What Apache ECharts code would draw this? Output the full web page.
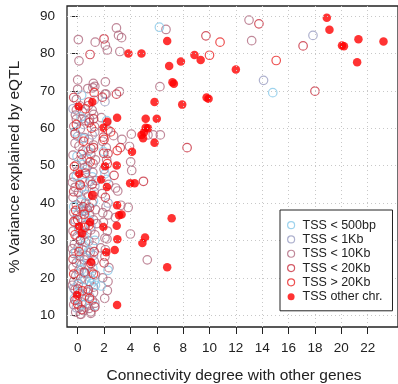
<!DOCTYPE html>
<html><head><meta charset="utf-8">
<script src="https://cdn.jsdelivr.net/npm/echarts@6/dist/echarts.min.js"></script>
<style>html,body{margin:0;padding:0;background:#fff}#c{width:398px;height:384px}</style>
</head><body><div id="c"></div>
<script>
const xTicks = [0,2,4,6,8,10,12,14,16,18,20,22];
const yTicks = [10,20,30,40,50,60,70,80,90];
const legendNames = ['TSS < 500bp','TSS < 1Kb','TSS < 10Kb','TSS < 20Kb','TSS > 20Kb','TSS other chr.'];

const tss500 = [[0.3,68.8],[-0.2,59.0],[0.4,57.2],[-0.1,47.2],[0.5,45.5],[0.2,40.2],[-0.3,39.0],[0.6,36.5],[0.1,33.0],[0.45,28.5],[-0.15,26.8],[0.3,22.1],[0.55,19.5],[0.05,18.2],[-0.25,14.5],[0.35,12.8],[0.15,24.5],[0.6,42.3],[-0.05,52.5],[0.25,63.0],[0.5,30.8],[0.1,16.0],[0.4,50.3],
[1.1,47.0],[0.8,53.8],[1.2,40.5],[0.9,35.2],[1.3,30.0],[1.05,18.5],[1.25,19.2],[0.95,20.0],[1.35,18.0],[1.15,22.5],[0.85,27.3],[1.3,12.5],
[2.2,62.0],[2.2,46.3],[2.07,47.8],[1.95,53.8],[1.78,17.8],[2.3,22.0],[6.2,87.0],[14.8,69.5]];

const tss1k = [[2.07,67.1],[14.1,72.8],[17.85,84.8],[0.0,57.8],[0.3,44.0],[-0.2,35.5],[0.5,25.5],[0.1,21.0],[-0.3,17.2],[0.65,49.0],[1.0,33.8],[1.2,26.0],[0.9,15.0],[1.3,44.5],[0.2,29.8],[-0.1,12.0],[0.45,61.0],[2.3,40.0],[1.1,58.2],[0.6,38.0],[-0.35,65.2],[1.25,67.5]];

const tss10k = [[0.05,83.7],[0.1,78.0],[0.0,72.9],[1.33,83.0],[2.1,82.2],[2.25,80.9],[2.94,86.8],[3.1,84.8],[3.33,84.2],[3.2,80.5],[6.7,86.4],[13.2,83.4],[13.0,88.9],[0.0,70.4],[-0.1,67.7],[0.77,70.6],[1.19,72.0],[1.3,71.2],[1.15,70.8],[2.1,72.4],[2.07,69.1],[2.15,69.1],[3.16,69.8],[6.24,71.1],[-0.1,64.9],[-0.17,63.5],[-0.1,62.4],[0.32,62.5],[1.21,63.7],[1.28,60.4],[4.07,58.4],[2.72,58.0],[3.36,57.0],[3.93,55.1],[4.02,51.0],[4.1,48.7],[5.73,58.2],[6.27,58.2],[5.33,58.2],[2.17,54.8],[1.17,50.5],[2.88,44.0],[3.04,43.2],[3.28,39.4],[3.83,38.8],[2.3,36.8],[1.9,37.4],[2.86,36.1],[4.0,31.7],[2.07,30.6],[2.22,30.4],[2.07,25.7],[5.28,24.8],[2.37,22.7],[2.25,16.6],[1.2,16.0],[0.99,10.9],[0.2,10.3],
[-0.3,60.5],[0.2,59.8],[0.5,57.5],[-0.2,56.0],[0.1,55.2],[0.4,54.0],[-0.35,52.8],[0.3,51.5],[-0.1,50.2],[0.55,49.5],[0.0,48.5],[-0.3,47.0],[0.35,46.5],[0.15,45.0],[-0.2,44.2],[0.5,43.5],[0.05,42.8],[-0.35,41.5],[0.3,41.0],[0.6,40.0],[-0.1,39.5],[0.2,38.5],[-0.3,37.5],[0.45,37.8],[0.0,36.8],[0.25,35.8],[-0.2,34.8],[0.55,34.0],[0.1,33.2],[-0.35,32.5],[0.35,32.0],[-0.05,31.0],[0.2,30.2],[0.6,29.5],[-0.25,29.0],[0.05,28.2],[0.4,27.5],[-0.3,26.5],[0.15,25.8],[0.5,24.8],[-0.1,24.0],[0.3,23.5],[-0.35,22.8],[0.1,22.0],[0.55,21.2],[-0.15,20.5],[0.25,19.8],[-0.3,19.0],[0.05,18.5],[0.4,17.5],[-0.2,16.8],[0.15,15.8],[0.5,15.0],[-0.05,14.2],[0.3,13.5],[-0.3,12.8],[0.1,12.0],[0.45,11.2],[-0.15,10.8],[0.25,10.2],[0.6,13.0],[0.65,26.0],[0.7,38.5],[0.7,52.0],[-0.4,45.5],[-0.4,27.8],[-0.4,18.0],[0.35,64.5],[0.6,62.0],[0.15,66.0],
[0.8,66.0],[1.1,64.8],[0.9,62.5],[1.3,59.0],[0.85,57.0],[1.2,55.5],[1.0,53.0],[1.35,51.5],[0.75,49.8],[1.15,48.2],[0.95,45.8],[1.25,43.0],[0.8,41.8],[1.1,40.0],[1.35,38.2],[0.9,37.0],[1.2,35.5],[1.0,32.8],[1.3,31.5],[0.85,29.8],[1.15,28.5],[0.95,26.8],[1.25,24.5],[0.8,23.2],[1.05,21.5],[1.35,20.8],[0.9,19.0],[1.2,17.5],[0.75,16.2],[1.1,14.0],[1.3,13.2],[0.85,11.8],[1.0,10.5],[1.4,46.0],[1.45,34.5],[0.7,32.0],
[1.8,62.8],[2.3,59.5],[1.9,56.5],[2.2,51.5],[2.0,49.0],[2.35,45.0],[1.85,42.5],[2.15,39.0],[1.95,34.8],[2.25,32.5],[1.75,28.0],[2.1,27.5],[1.9,20.0],[2.3,19.0],[2.05,14.5]];

const tss20k = [[0.94,79.7],[2.0,83.9],[13.75,87.9],[17.1,82.0],[9.73,84.7],[2.94,69.1],[1.88,68.3],[0.84,67.0],[0.87,61.5],[1.21,62.5],[3.23,54.8],[1.95,57.6],[1.98,53.3],[2.3,53.2],[2.76,47.4],[1.0,54.5],[1.2,54.8],[8.3,54.8],[4.99,45.8],[18.0,69.9],[-0.2,58.5],[0.3,53.0],[-0.3,43.0],[0.4,39.0],[0.0,35.5],[0.2,30.0],[-0.35,25.0],[0.5,21.5],[0.0,17.0],[-0.2,14.0],[0.3,11.5],[1.1,45.0],[0.9,38.8],[1.25,27.0],[1.0,23.8],[0.8,16.8],[1.3,12.2],[2.1,41.5],[2.0,24.0],[-0.3,68.2],[0.6,48.0]];

const tssGt20k = [[10.8,83.0],[10.0,79.5],[15.06,78.1],[2.0,57.0],[1.25,69.5],[0.6,65.2],[-0.1,61.0],[0.45,56.5],[-0.25,49.8],[0.2,44.8],[-0.15,38.0],[0.55,33.5],[0.1,27.0],[-0.3,21.0],[0.35,16.5],[0.0,13.0],[-0.3,35.0],[1.05,60.0],[0.95,51.0],[1.15,42.0],[0.85,34.0],[1.2,21.0],[0.9,14.5],[2.25,50.5],[3.0,54.0],[2.5,59.0],[0.5,37.0],[-0.2,31.5]];

const tssOther = [[3.85,80.0],[4.84,80.0],[6.79,83.3],[6.94,76.6],[7.83,77.8],[8.86,79.6],[9.33,78.2],[12.0,75.7],[7.19,72.3],[7.3,71.9],[9.78,68.2],[9.93,67.9],[5.83,67.0],[7.93,66.3],[18.9,89.5],[19.1,86.3],[20.05,82.1],[20.2,81.9],[21.3,83.8],[21.2,77.6],[23.2,83.2],[0.07,65.8],[1.11,67.0],[1.95,60.1],[2.25,61.7],[2.99,62.8],[5.16,62.5],[6.0,62.5],[5.16,60.1],[5.04,58.9],[4.84,58.2],[4.96,57.3],[5.83,56.1],[5.33,60.0],[4.12,53.7],[2.96,50.0],[2.07,49.8],[1.78,46.3],[2.22,44.3],[3.98,45.3],[4.32,45.3],[0.12,47.8],[1.11,42.1],[2.99,39.4],[3.14,36.7],[3.33,36.9],[0.94,34.9],[0.1,33.8],[1.95,33.6],[2.96,33.9],[0.32,31.9],[7.13,35.9],[3.01,30.3],[5.11,30.8],[4.91,29.3],[2.81,27.4],[2.17,26.8],[1.01,24.2],[6.79,22.8],[2.99,12.7],[-0.05,15.4]];

const colors = ['#86C8E8','#9A9EC2','#B06A80','#C8303E','#E82424','#FF0000'];
const datasets = [tss500, tss1k, tss10k, tss20k, tssGt20k, tssOther];
const drawOrder = [2,1,0,3,4,5];

const chart = echarts.init(document.getElementById('c'), null, {renderer:'canvas'});
const FONT = 'Liberation Sans, Arial, Helvetica, sans-serif';

const series = drawOrder.map(i => ({
  name: legendNames[i],
  type: 'scatter',
  data: datasets[i],
  symbol: 'circle',
  symbolSize: 8.5,
  z: 3 + (i === 5 ? 1 : 0),
  itemStyle: i === 5 ? {color: colors[i], borderWidth: 0} : {color: 'rgba(0,0,0,0)', borderColor: colors[i], borderWidth: 1.2},
  silent: true,
  animation: false
}));

series.unshift({
  name: 'grid',
  type: 'line',
  data: [],
  z: 1,
  silent: true,
  animation: false,
  markLine: {
    silent: true, symbol: ['none','none'], label: {show:false}, animation:false,
    lineStyle: {color:'#C8C8C8', type:[1,3], width:1},
    data: xTicks.map(v => ({xAxis: v})).concat(yTicks.map(v => ({yAxis: v})))
  }
});

chart.setOption({
  animation: false,
  backgroundColor: '#fff',
  grid: {left: 67, top: 6, width: 339, height: 321, show: true, borderColor: '#222', borderWidth: 1.3, backgroundColor: 'transparent'},
  xAxis: {
    type: 'value', min: -0.81, max: 24.3,
    axisLine: {show: false},
    splitLine: {show: false},
    axisTick: {show: true, length: 7, lineStyle:{color:'#222', width:1}, customValues: xTicks},
    axisLabel: {customValues: xTicks, margin: 14, fontSize: 13.5, color: '#222', fontFamily: FONT}
  },
  yAxis: {
    type: 'value', min: 6.84, max: 92.67,
    axisLine: {show: false},
    splitLine: {show: false},
    axisTick: {show: true, length: 7, lineStyle:{color:'#222', width:1}, customValues: yTicks},
    axisLabel: {customValues: yTicks, margin: 12, fontSize: 13.5, color: '#222', fontFamily: FONT}
  },
  legend: {
    data: legendNames.map((n,i) => ({name: n, icon: 'circle', itemStyle: i===5 ? {color: colors[i]} : {color:'#fff', borderColor: colors[i], borderWidth: 1.2}})),
    orient: 'vertical',
    left: 280, top: 210,
    padding: [8, 10, 7, 7],
    itemWidth: 7, itemHeight: 7, itemGap: 0,
    backgroundColor: '#fff',
    borderColor: '#222', borderWidth: 1,
    selectedMode: false,
    textStyle: {fontSize: 12.5, color: '#222', fontFamily: FONT, lineHeight: 14.3, padding: [0,0,0,3]},
    z: 10
  },
  graphic: [
    {type:'text', style:{text:'Connectivity degree with other genes', font:'15.5px ' + FONT, fill:'#222', textAlign:'center', textVerticalAlign:'middle'}, x: 234, y: 376, z: 10},
    {type:'text', style:{text:'% Variance explained by eQTL', font:'15.5px ' + FONT, fill:'#222', textAlign:'center', textVerticalAlign:'middle'}, x: 15, y: 167, rotation: Math.PI/2, z: 10}
  ],
  series: series
});
</script></body></html>
